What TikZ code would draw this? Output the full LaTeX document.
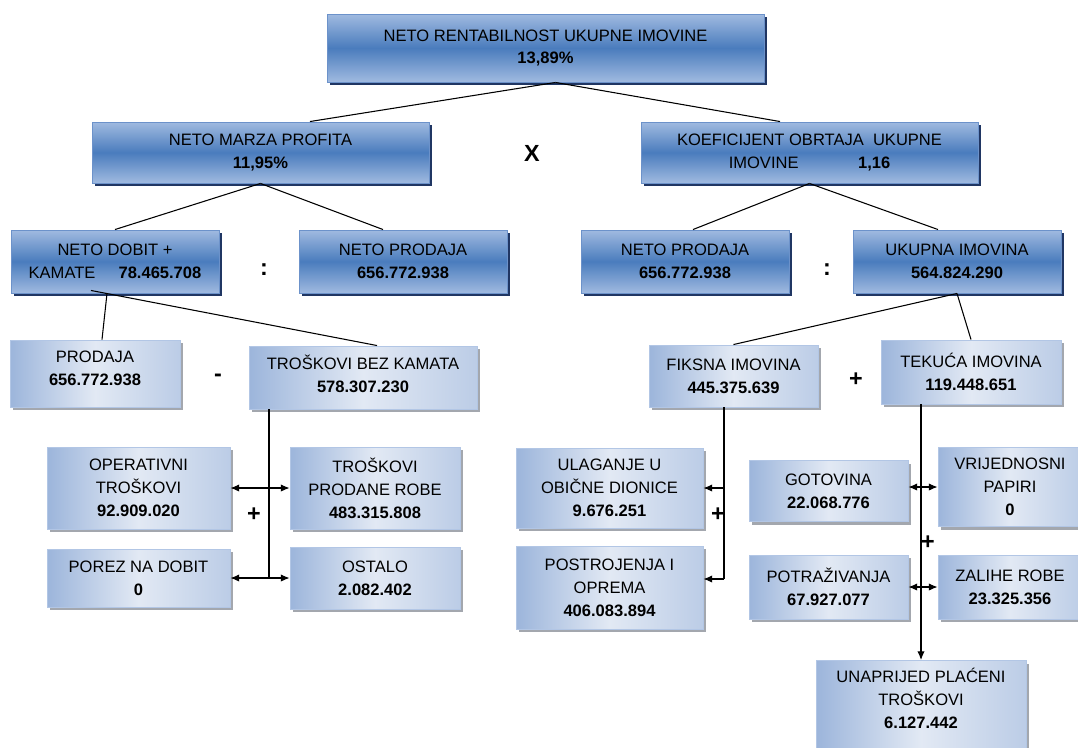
\documentclass[tikz,border=0pt]{standalone}
\usepackage{fontspec}
\setmainfont{Liberation Sans}
\usetikzlibrary{arrows.meta,calc,shadows}

\definecolor{darktop}{HTML}{A0BAE0}
\definecolor{darkmid}{HTML}{4A7CBD}
\definecolor{darkline}{HTML}{6C92CA}
\definecolor{darkshadow}{HTML}{203663}
\definecolor{lightA}{HTML}{9CB5DB}
\definecolor{lightB}{HTML}{E2E9F4}
\definecolor{lightline}{HTML}{B2C6E5}
\definecolor{lightshadow}{HTML}{A3A7AE}

\begin{document}
\begin{tikzpicture}[>={Latex[length=6.5pt,width=5.5pt]}, x=0.75pt, y=-0.75pt,
    wh/.style 2 args={minimum width=#1*0.75pt, minimum height=#2*0.75pt},
    darkbox/.style={draw=darkline, line width=0.7pt, top color=darktop, bottom color=darktop, middle color=darkmid,
        inner sep=0pt, align=center, font=\fontsize{12.4}{17.2}\selectfont,
        drop shadow={shadow xshift=2.5pt, shadow yshift=-2.5pt, fill=darkshadow, opacity=1}},
    lightbox/.style={draw=lightline, line width=0.7pt, left color=lightA, right color=lightA!55!lightB, middle color=lightB,
        inner sep=0pt, align=center, font=\fontsize{12.4}{17.2}\selectfont,
        drop shadow={shadow xshift=2.5pt, shadow yshift=-2.5pt, fill=lightshadow, opacity=1}},
    op/.style={font=\fontsize{17.5}{17.5}\selectfont\bfseries, inner sep=0pt}
]
    \useasboundingbox (0,0) rectangle (1078,747);

    % top levels
    \node[darkbox, wh={437}{68}] (rent) at (545.5,48) {NETO RENTABILNOST UKUPNE IMOVINE\\\textbf{13,89\%}};
    \node[darkbox, wh={337}{61}] (marza) at (260.5,152.5) {NETO MARZA PROFITA\\\textbf{11,95\%}};
    \node[darkbox, wh={337}{61}] (koef) at (809.5,152.5) {KOEFICIJENT OBRTAJA\ \ UKUPNE\\IMOVINE\hspace{3.6em}\textbf{1,16}};
    \node[darkbox, wh={208}{63}] (dobit) at (115,261.5) {NETO DOBIT +\\KAMATE\hspace{1.4em}\textbf{78.465.708}};
    \node[darkbox, wh={208}{63}] (prodL) at (403,261.5) {NETO PRODAJA\\\textbf{656.772.938}};
    \node[darkbox, wh={208}{63}] (prodR) at (685,261.5) {NETO PRODAJA\\\textbf{656.772.938}};
    \node[darkbox, wh={208}{63}] (ukupna) at (957,261.5) {UKUPNA IMOVINA\\\textbf{564.824.290}};

    % lower levels
    \node[lightbox, wh={170}{67}, text depth=8pt] (prodaja) at (95,373.5) {PRODAJA\\\textbf{656.772.938}};
    \node[lightbox, wh={228}{63}, text depth=6pt] (troskovi) at (363,377.5) {TROŠKOVI BEZ KAMATA\\\textbf{578.307.230}};
    \node[lightbox, wh={169}{62}] (fiksna) at (733.5,376) {FIKSNA IMOVINA\\\textbf{445.375.639}};
    \node[lightbox, wh={180}{64}] (tekuca) at (971,372) {TEKUĆA IMOVINA\\\textbf{119.448.651}};
    \node[lightbox, wh={183}{82}] (operativni) at (138.5,488) {OPERATIVNI\\TROŠKOVI\\\textbf{92.909.020}};
    \node[lightbox, wh={170}{82}] (prodrobe) at (375,488) {TROŠKOVI\\PRODANE ROBE\\\textbf{483.315.808}};
    \node[lightbox, wh={183}{58}] (porez) at (138.5,578) {POREZ NA DOBIT\\\textbf{0}};
    \node[lightbox, wh={170}{62}] (ostalo) at (375,578) {OSTALO\\\textbf{2.082.402}};
    \node[lightbox, wh={187}{80}] (ulaganje) at (609.5,488) {ULAGANJE U\\OBIČNE DIONICE\\\textbf{9.676.251}};
    \node[lightbox, wh={187}{83}] (postrojenja) at (609.5,587.5) {POSTROJENJA I\\OPREMA\\\textbf{406.083.894}};
    \node[lightbox, wh={159}{61}] (gotovina) at (828.5,491) {GOTOVINA\\\textbf{22.068.776}};
    \node[lightbox, wh={144}{79}] (papiri) at (1010,487) {VRIJEDNOSNI\\PAPIRI\\\textbf{0}};
    \node[lightbox, wh={159}{64}] (potrazivanja) at (828.5,587) {POTRAŽIVANJA\\\textbf{67.927.077}};
    \node[lightbox, wh={144}{64}] (zalihe) at (1010,587) {ZALIHE ROBE\\\textbf{23.325.356}};
    \node[lightbox, anchor=north, minimum width=210*0.75pt, inner ysep=6pt, text depth=80pt] (unaprijed) at (921,660) {UNAPRIJED PLAĆENI\\TROŠKOVI\\\textbf{6.127.442}};

    % operators
    \node[op] (puta) at (532,153) {X};
    \node[op] (dijeliL) at (264,270) {:};
    \node[op] (dijeliR) at (827,270) {:};
    \node[op] (minus) at (218,378) {-};
    \node[op] (plusA) at (254,515) {+};
    \node[op] (plusB) at (856,380) {+};
    \node[op] (plusC) at (718,515) {+};
    \node[op] (plusD) at (928,543) {+};

    \draw[thick] ($(rent.south)+(10,0)$) -- ($(marza.north)+(49.5,0)$);
    \draw[thick] ($(rent.south)+(10,0)$) -- ($(koef.north)+(-29.5,0)$);
    \draw[thick] (marza.south) -- (dobit.north);
    \draw[thick] (marza.south) -- ($(prodL.north)+(-20,0)$);
    \draw[thick] (koef.south) -- ($(prodR.north)+(8,0)$);
    \draw[thick] (koef.south) -- ($(ukupna.north)+(-19,0)$);
    \draw[thick] ($(dobit.south)+(-24,-3)$) -- ($(troskovi.north)+(14,0)$);
    \draw[thick] ($(dobit.south)+(-8,0)$) -- ($(prodaja.north)+(7,0)$);
    \draw[thick] (ukupna.south) -- (fiksna.north);
    \draw[thick] (ukupna.south) -- (tekuca.north);

    \coordinate (busL) at (269,578);
    \draw[thick] (troskovi.south -| busL) -- (busL);
    \draw[<->,thick] (operativni.east) -- (prodrobe.west);
    \draw[<->,thick] (porez.east) -- (ostalo.west);

    \coordinate (busF) at (724,579);
    \draw[thick] (fiksna.south -| busF) -- (busF);
    \draw[->,thick] (busF |- ulaganje.east) -- (ulaganje.east);
    \draw[->,thick] (busF) -- (busF -| postrojenja.east);

    \draw[->,thick] (tekuca.south -| unaprijed.north) -- (unaprijed.north);
    \draw[<->,thick] (gotovina.east |- papiri.west) -- (papiri.west);
    \draw[<->,thick] (potrazivanja.east) -- (zalihe.west);
\end{tikzpicture}
\end{document}
